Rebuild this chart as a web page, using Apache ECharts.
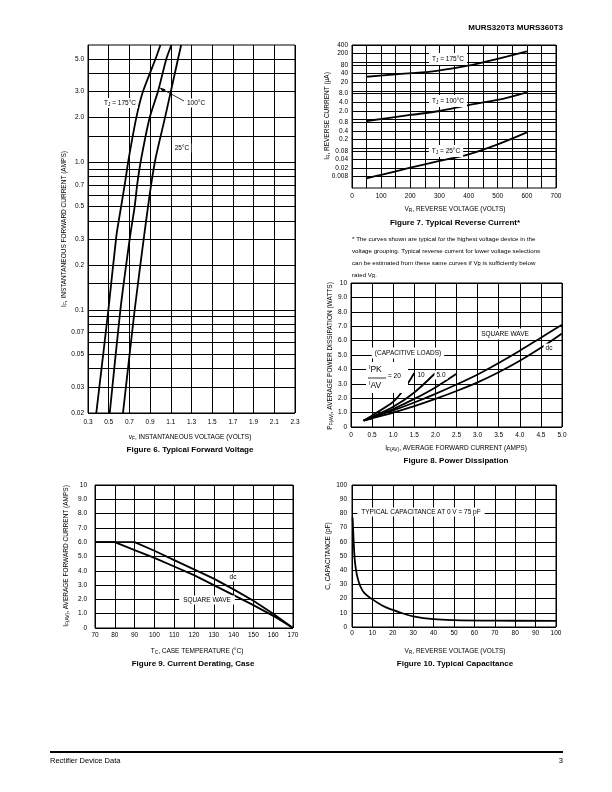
<!DOCTYPE html>
<html><head><meta charset="utf-8">
<script src="https://cdn.jsdelivr.net/npm/echarts@6/dist/echarts.min.js"></script>
<style>html,body{margin:0;padding:0;background:#fff}#c{width:612px;height:792px}</style>
</head><body><div id="c"></div>
<script>
const FONT = '"Liberation Sans", Arial, Helvetica, sans-serif';

// ---------- Figure 6: Typical Forward Voltage ----------
const fig6XTicks = [0.3,0.5,0.7,0.9,1.1,1.3,1.5,1.7,1.9,2.1,2.3];
const fig6YGrid = [0.02,0.03,0.04,0.05,0.06,0.07,0.08,0.09,0.1,0.15,0.2,0.3,0.4,0.5,0.6,0.7,0.8,0.9,1.0,1.5,2.0,3.0,4.0,5.0];
const fig6YLabels = ['0.02','0.03','0.05','0.07','0.1','0.2','0.3','0.5','0.7','1.0','2.0','3.0','5.0'];
const fig6Current = [0.02,0.1,0.32,0.5,0.72,1.07,2.0,3.0,5.0,6.2];
const fig6V175 = [0.38,0.497,0.575,0.62,0.657,0.695,0.767,0.831,0.953,1.0];
const fig6V100 = [0.51,0.613,0.708,0.751,0.777,0.816,0.896,0.976,1.057,1.106];
const fig6V25  = [0.638,0.751,0.843,0.88,0.912,0.954,1.044,1.10,1.17,1.20];

// ---------- Figure 7: Typical Reverse Current ----------
const fig7YGrid = [0.004,0.008,0.01,0.02,0.04,0.08,0.1,0.2,0.4,0.8,1,2,4,8,10,20,40,80,100,200,400];
const fig7YLabels = ['0.004','0.008','0.02','0.04','0.08','0.2','0.4','0.8','2.0','4.0','8.0','20','40','80','200','400'];
const fig7VR175 = [50,150,270,380,450,530,600];
const fig7IR175 = [31,38,47,70,99,156,240];
const fig7VR100 = [50,200,300,400,500,600];
const fig7IR100 = [0.88,1.43,1.97,3.19,4.78,8.87];
const fig7VR25  = [50,100,200,300,400,500,600];
const fig7IR25  = [0.0087,0.0114,0.0205,0.0352,0.0603,0.135,0.354];

// ---------- Figure 8: Power Dissipation ----------
const fig8IfSq = [0.3,0.5,1.0,1.5,2.0,2.5,3.0,3.5,4.0,4.5,5.0];
const fig8PSq  = [0.45,0.65,1.15,1.7,2.3,2.95,3.65,4.45,5.3,6.2,7.1];
const fig8PDc  = [0.45,0.6,1.0,1.45,1.95,2.5,3.1,3.8,4.6,5.5,6.5];
const fig8If5  = [0.3,0.5,1.0,1.5,2.0,2.5];
const fig8P5   = [0.45,0.65,1.25,1.95,2.75,3.7];
const fig8If10 = [0.3,0.5,1.0,1.5,2.0];
const fig8P10  = [0.45,0.7,1.4,2.4,3.75];
const fig8If20 = [0.3,0.5,1.0,1.25,1.5];
const fig8P20  = [0.45,0.8,1.75,2.6,3.75];

// ---------- Figure 9: Current Derating, Case ----------
const fig9Tc = [70,80,90,100,110,120,130,140,150,160,170];
const fig9Dc = [6.0,6.0,6.0,5.4,4.75,4.1,3.45,2.7,1.9,1.0,0];
const fig9Sq = [6.0,6.0,5.45,4.9,4.3,3.7,3.0,2.3,1.6,0.85,0];

// ---------- Figure 10: Typical Capacitance ----------
const fig10Vr = [0.3,0.5,1,1.5,2.5,4,6,10,15,20,25,30,40,50,70,100];
const fig10C  = [77,70,55,45,36,29,24,19.5,15,12,9.5,7.5,5.5,4.8,4.5,4.3];

// ---------- helpers ----------
const zip = (xs, ys) => xs.map((x, i) => [x, ys[i]]);
const BLACK = '#000';
const gridLine = {show:true, lineStyle:{color:BLACK, width:1}};
const tickFont = {fontSize:6.5, color:BLACK, fontFamily:FONT};
function fmt1(v){ return (v===0||v===10) ? String(v) : v.toFixed(1); }
function curve(xi, yi, pts, extra){
  return Object.assign({type:'line', xAxisIndex:xi, yAxisIndex:yi, data:pts, showSymbol:false,
    smooth:0.3, lineStyle:{color:BLACK, width:1.8}, itemStyle:{color:BLACK}, silent:true, z:3}, extra||{});
}
function hMarks(values, labels){
  return {silent:true, symbol:['none','none'], animation:false,
    lineStyle:{color:BLACK, width:1, type:'solid'},
    data: values.map(v => {
      const s = labels.find(l => Number(l) === v);
      return {yAxis:v, label:{show: s!==undefined, position:'start', distance:4, formatter: s||'', fontSize:6.5, color:BLACK, fontFamily:FONT}};
    })};
}
function vMarks(values){
  return values.map(v => ({xAxis:v, label:{show:false}}));
}
const RICH = {
  a:{fontSize:6.5, fontFamily:FONT, fill:BLACK, color:BLACK},
  s:{fontSize:4.8, fontFamily:FONT, fill:BLACK, color:BLACK, padding:[3,0,0,0]},
  b:{fontSize:8.5, fontFamily:FONT, fill:BLACK, color:BLACK},
  bi:{fontSize:5, fontFamily:FONT, fill:BLACK, color:BLACK, padding:[0,0,4,0]},
  f:{fontSize:6.2, fontFamily:FONT, fill:BLACK, color:BLACK},
  fs:{fontSize:4.6, fontFamily:FONT, fill:BLACK, color:BLACK, padding:[3,0,0,0]}
};
function txt(x, y, text, o){
  o = o || {};
  const st = {text:text, fontSize:o.fontSize||6.5, fontFamily:FONT, fontWeight:o.fontWeight||'normal', fill:BLACK,
    align:o.align||'center', verticalAlign:'middle', textAlign:o.align||'center', textVerticalAlign:'middle', rich:RICH};
  if (o.bg){ st.backgroundColor = '#fff'; st.padding = o.pad || [1,2]; }
  return {type:'text', x:x, y:y, rotation:o.rot||0, z:100, style:st};
}
function line(x1,y1,x2,y2,w){ return {type:'line', z:100, shape:{x1,y1,x2,y2}, style:{stroke:BLACK, lineWidth:w||1}}; }
function rect(x,y,w,h){ return {type:'rect', z:90, shape:{x,y,width:w,height:h}, style:{fill:'#fff'}}; }

const gridStyle = {show:true, borderColor:BLACK, borderWidth:1, backgroundColor:'transparent', containLabel:false};

const option = {
  animation:false,
  backgroundColor:'#fff',
  grid:[
    Object.assign({left:88, top:45, width:207, height:368}, gridStyle),
    Object.assign({left:352, top:45, width:204, height:143}, gridStyle),
    Object.assign({left:351, top:283, width:211, height:144}, gridStyle),
    Object.assign({left:95, top:485, width:198, height:143}, gridStyle),
    Object.assign({left:352, top:485, width:204, height:142}, gridStyle)
  ],
  xAxis:[
    {gridIndex:0, type:'value', min:0.3, max:2.3, splitLine:{show:false}, axisLine:{show:false},
      axisTick:{show:false, customValues:fig6XTicks},
      axisLabel:Object.assign({customValues:fig6XTicks, margin:6, formatter:v=>v.toFixed(1)}, tickFont)},
    {gridIndex:1, type:'value', min:0, max:700, interval:50, splitLine:gridLine, axisLine:{show:false}, axisTick:{show:false},
      axisLabel:Object.assign({margin:5, formatter:v=> v%100===0 ? String(v) : ''}, tickFont)},
    {gridIndex:2, type:'value', min:0, max:5, interval:0.5, splitLine:gridLine, axisLine:{show:false}, axisTick:{show:false},
      axisLabel:Object.assign({margin:5, formatter:v=> v===0 ? '0' : v.toFixed(1)}, tickFont)},
    {gridIndex:3, type:'value', min:70, max:170, interval:10, splitLine:gridLine, axisLine:{show:false}, axisTick:{show:false},
      axisLabel:Object.assign({margin:4, formatter:v=>String(v)}, tickFont)},
    {gridIndex:4, type:'value', min:0, max:100, interval:10, splitLine:gridLine, axisLine:{show:false}, axisTick:{show:false},
      axisLabel:Object.assign({margin:3, formatter:v=>String(v)}, tickFont)}
  ],
  yAxis:[
    {gridIndex:0, type:'log', logBase:10, min:0.02, max:6.2, splitLine:{show:false}, axisLine:{show:false}, axisTick:{show:false}, axisLabel:{show:false}},
    {gridIndex:1, type:'log', logBase:10, min:0.004, max:400, splitLine:{show:false}, axisLine:{show:false}, axisTick:{show:false}, axisLabel:{show:false}},
    {gridIndex:2, type:'value', min:0, max:10, interval:1, splitLine:gridLine, axisLine:{show:false}, axisTick:{show:false},
      axisLabel:Object.assign({margin:4, formatter:fmt1}, tickFont)},
    {gridIndex:3, type:'value', min:0, max:10, interval:1, splitLine:gridLine, axisLine:{show:false}, axisTick:{show:false},
      axisLabel:Object.assign({margin:8, formatter:fmt1}, tickFont)},
    {gridIndex:4, type:'value', min:0, max:100, interval:10, splitLine:gridLine, axisLine:{show:false}, axisTick:{show:false},
      axisLabel:Object.assign({margin:5, formatter:v=>String(v)}, tickFont)}
  ],
  series:[
    curve(0,0, zip(fig6V175, fig6Current), {smooth:0.2, markLine: (function(){ const m = hMarks(fig6YGrid, fig6YLabels); m.data = m.data.concat(vMarks(fig6XTicks)); return m; })()}),
    curve(0,0, zip(fig6V100, fig6Current), {smooth:0.2}),
    curve(0,0, zip(fig6V25, fig6Current), {smooth:0.2}),
    curve(1,1, zip(fig7VR175, fig7IR175), {markLine: hMarks(fig7YGrid, fig7YLabels)}),
    curve(1,1, zip(fig7VR100, fig7IR100)),
    curve(1,1, zip(fig7VR25, fig7IR25)),
    curve(2,2, zip(fig8IfSq, fig8PSq)),
    curve(2,2, zip(fig8IfSq, fig8PDc)),
    curve(2,2, zip(fig8If5, fig8P5)),
    curve(2,2, zip(fig8If10, fig8P10)),
    curve(2,2, zip(fig8If20, fig8P20)),
    curve(3,3, zip(fig9Tc, fig9Dc), {smooth:false}),
    curve(3,3, zip(fig9Tc, fig9Sq), {smooth:false}),
    curve(4,4, zip(fig10Vr, fig10C), {smooth:0.4})
  ],
  graphic:[
    // header / footer
    txt(563, 28, 'MURS320T3 MURS360T3', {fontSize:8, fontWeight:'bold', align:'right'}),
    line(50, 752, 563, 752, 2),
    txt(50, 761, 'Rectifier Device Data', {fontSize:7.5, align:'left'}),
    txt(563, 761, '3', {fontSize:7.5, align:'right'}),

    // Figure 6
    txt(64, 229, '{a|I}{s|F}{a|, INSTANTANEOUS FORWARD CURRENT (AMPS)}', {rot:Math.PI/2}),
    txt(190, 437, '{a|v}{s|F}{a|, INSTANTANEOUS VOLTAGE (VOLTS)}'),
    txt(190, 450, 'Figure 6. Typical Forward Voltage', {fontSize:8, fontWeight:'bold'}),
    txt(120, 103, '{a|T}{s|J}{a| = 175°C}', {bg:true}),
    txt(196, 103, '100°C', {bg:true}),
    txt(182, 148, '25°C', {bg:true}),
    line(184, 101, 161, 88.5, 0.8),
    {type:'polygon', z:100, shape:{points:[[159.5,87.6],[165.5,89.2],[163.3,92.4]]}, style:{fill:BLACK}},

    // Figure 7
    txt(327, 116, '{a|I}{s|R}{a|, REVERSE CURRENT (μA)}', {rot:Math.PI/2}),
    txt(455, 209, '{a|V}{s|R}{a|, REVERSE VOLTAGE (VOLTS)}'),
    txt(455, 223, 'Figure 7. Typical Reverse Current*', {fontSize:8, fontWeight:'bold'}),
    txt(448, 59, '{a|T}{s|J}{a| = 175°C}', {bg:true, pad:[2,3]}),
    txt(448, 101, '{a|T}{s|J}{a| = 100°C}', {bg:true, pad:[2,3]}),
    txt(446, 151, '{a|T}{s|J}{a| = 25°C}', {bg:true, pad:[2,3]}),
    txt(352, 239, '{f|* The curves shown are typical for the highest voltage device in the}', {align:'left'}),
    txt(352, 251, '{f|voltage grouping. Typical reverse current for lower voltage selections}', {align:'left'}),
    txt(352, 263, '{f|can be estimated from these same curves if V}{fs|R}{f| is sufficiently below}', {align:'left'}),
    txt(352, 275, '{f|rated V}{fs|R}{f|.}', {align:'left'}),

    // Figure 8
    txt(330, 356, '{a|P}{s|F(AV)}{a|, AVERAGE POWER DISSIPATION (WATTS)}', {rot:Math.PI/2}),
    txt(456, 448, '{a|I}{s|F(AV)}{a|, AVERAGE FORWARD CURRENT (AMPS)}'),
    txt(456, 461, 'Figure 8. Power Dissipation', {fontSize:8, fontWeight:'bold'}),
    txt(505, 334, 'SQUARE WAVE', {bg:true, pad:[2,3]}),
    txt(549, 348, 'dc', {bg:true, pad:[1,2]}),
    txt(408, 353, '(CAPACITIVE LOADS)', {bg:true, pad:[2,3]}),
    rect(366, 362, 42, 31),
    txt(369, 370, '{bi|I}{b|PK}', {align:'left'}),
    line(368, 378, 386, 378, 0.8),
    txt(369, 386, '{bi|I}{b|AV}', {align:'left'}),
    txt(388, 376, '= 20', {fontSize:6.5, align:'left'}),
    txt(421, 375, '10', {bg:true, pad:[1,2]}),
    txt(441, 375, '5.0', {bg:true, pad:[1,2]}),

    // Figure 9
    txt(66, 556, '{a|I}{s|F(AV)}{a|, AVERAGE FORWARD CURRENT (AMPS)}', {rot:Math.PI/2}),
    txt(197, 651, '{a|T}{s|C}{a|, CASE TEMPERATURE (°C)}'),
    txt(193, 664, 'Figure 9. Current Derating, Case', {fontSize:8, fontWeight:'bold'}),
    txt(233, 577, 'dc', {bg:true, pad:[1,2]}),
    txt(207, 600, 'SQUARE WAVE', {bg:true, pad:[1,4]}),

    // Figure 10
    txt(328, 556, 'C, CAPACITANCE (pF)', {rot:Math.PI/2}),
    txt(455, 651, '{a|V}{s|R}{a|, REVERSE VOLTAGE (VOLTS)}'),
    txt(455, 664, 'Figure 10. Typical Capacitance', {fontSize:8, fontWeight:'bold'}),
    txt(421, 512, 'TYPICAL CAPACITANCE AT 0 V = 75 pF', {bg:true, pad:[1,4]})
  ]
};

const chart = echarts.init(document.getElementById('c'), null, {renderer:'canvas', width:612, height:792});
chart.setOption(option);
</script>
</body></html>
